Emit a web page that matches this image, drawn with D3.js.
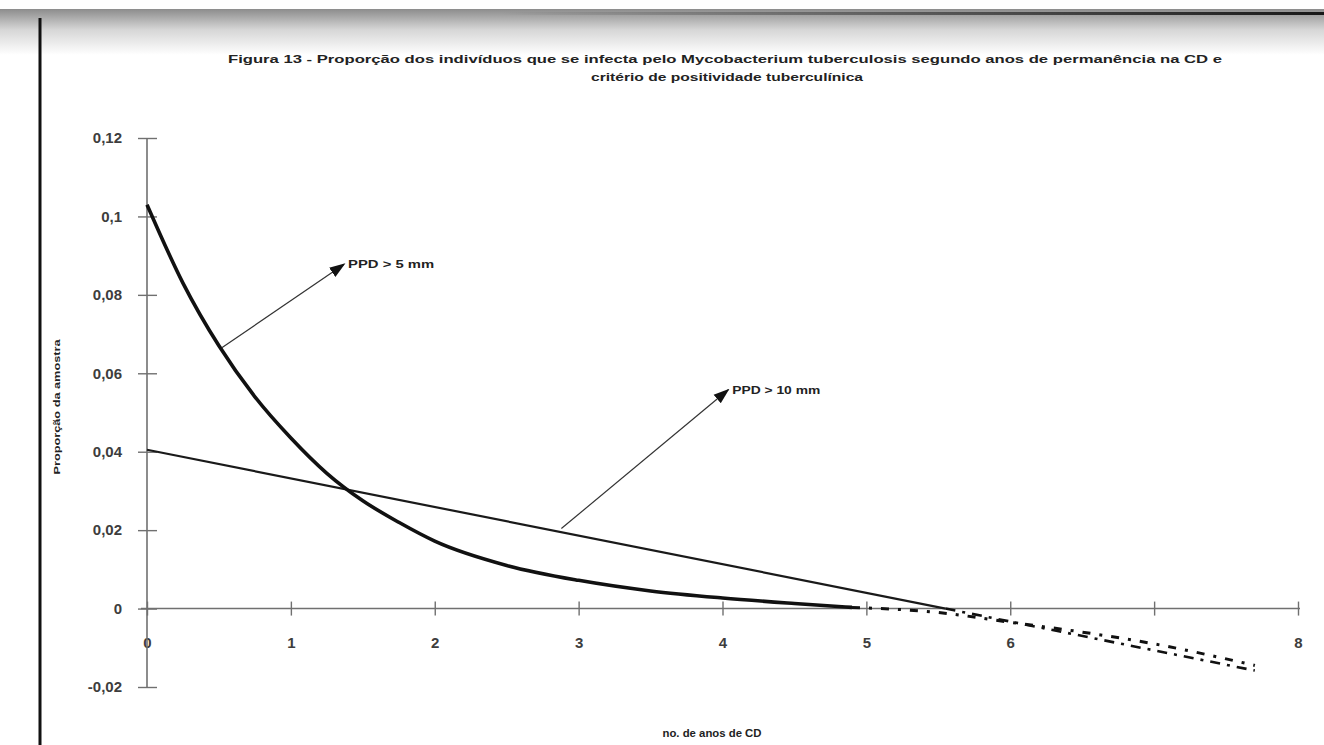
<!DOCTYPE html>
<html><head><meta charset="utf-8">
<script src="https://cdn.jsdelivr.net/npm/d3@7"></script>
<style>body{margin:0;background:#fff}svg{display:block}</style>
</head><body>
<script>
// ---- data ----
const titleLines = ["Figura 13 - Proporção dos indivíduos que se infecta pelo Mycobacterium tuberculosis segundo anos de permanência na CD e", "critério de positividade tuberculínica"];
const yLabel = "Proporção da amostra";
const xLabel = "no. de anos de CD";
const xTicks = [0,1,2,3,4,5,6,7,8];
const xTickLabels = ["0","1","2","3","4","5","6","","8"];
const yTicks = [0.12,0.1,0.08,0.06,0.04,0.02,0,-0.02];
const yTickLabels = ["0,12","0,1","0,08","0,06","0,04","0,02","0","-0,02"];
// PPD > 5 mm (thick curve)
const ppd5X = [0,0.25,0.5,0.75,1.0,1.25,1.5,1.75,2.0,2.5,3.0,3.5,4.0,4.5,4.9];
const ppd5Y = [0.103,0.083,0.067,0.054,0.0435,0.0345,0.0275,0.022,0.0172,0.011,0.0072,0.0045,0.0027,0.0013,0.0003];
const ppd5ExtX = [4.9,5.5,6.0,6.5,7.0,7.7];
const ppd5ExtY = [0.0003,-0.001,-0.0035,-0.006,-0.009,-0.0145];
// PPD > 10 mm (thin line)
const ppd10X = [0,5.55];
const ppd10Y = [0.0405,0];
const ppd10ExtX = [5.55,7.7];
const ppd10ExtY = [0,-0.0158];
// annotations: [x0,y0,x1,y1,label]
const annotations = [
  [0.52,0.0665,1.37,0.0878,"PPD > 5 mm"],
  [2.88,0.0204,4.04,0.0558,"PPD > 10 mm"]
];
const annotationWidths = [86,88];

// ---- layout ----
const W=1324,H=745;
const svg=d3.select("body").append("svg").attr("width",W).attr("height",H);
const defs=svg.append("defs");
const g1=defs.append("linearGradient").attr("id","topg").attr("x1",0).attr("y1",0).attr("x2",0).attr("y2",1);
g1.append("stop").attr("offset",0).attr("stop-color","#8c8c8c");
g1.append("stop").attr("offset",0.45).attr("stop-color","#d6d6d6");
g1.append("stop").attr("offset",1).attr("stop-color","#ffffff");
const g2=defs.append("linearGradient").attr("id","lineg").attr("x1",0).attr("y1",0).attr("x2",1).attr("y2",0);
g2.append("stop").attr("offset",0).attr("stop-color","#000").attr("stop-opacity",0);
g2.append("stop").attr("offset",1).attr("stop-color","#000").attr("stop-opacity",0.85);
defs.append("marker").attr("id","arr").attr("viewBox","0 0 10 10").attr("refX",9).attr("refY",5)
  .attr("markerWidth",16).attr("markerHeight",16).attr("orient","auto").attr("markerUnits","userSpaceOnUse")
  .append("path").attr("d","M0,1.5 L10,5 L0,8.5 Z").attr("fill","#111");

svg.append("rect").attr("x",0).attr("y",9).attr("width",W).attr("height",46).attr("fill","url(#topg)");
svg.append("rect").attr("x",0).attr("y",0).attr("width",W).attr("height",9).attr("fill","#fff");
svg.append("rect").attr("x",500).attr("y",12).attr("width",W-500).attr("height",3).attr("fill","url(#lineg)");
svg.append("line").attr("x1",40).attr("x2",40).attr("y1",18).attr("y2",H).attr("stroke","#111").attr("stroke-width",3);

const x=d3.scaleLinear().domain([0,8]).range([147,1298]);
const y=d3.scaleLinear().domain([-0.02,0.12]).range([687,138]);

// title
const tfont="'Liberation Sans Narrow','Liberation Sans',Arial,sans-serif";
svg.append("text").attr("x",725).attr("y",63).attr("text-anchor","middle")
  .attr("font-family",tfont).attr("font-weight","bold").attr("font-size",11.5).attr("fill","#222")
  .attr("textLength",994).attr("lengthAdjust","spacingAndGlyphs").text(titleLines[0]);
svg.append("text").attr("x",727).attr("y",81).attr("text-anchor","middle")
  .attr("font-family",tfont).attr("font-weight","bold").attr("font-size",11.5).attr("fill","#222")
  .attr("textLength",272).attr("lengthAdjust","spacingAndGlyphs").text(titleLines[1]);

// axes
const axCol="#707070";
const xAxis=d3.axisBottom(x).tickValues(xTicks).tickSize(0).tickFormat((d,i)=>xTickLabels[i]);
const gx=svg.append("g").attr("transform",`translate(0,${y(0)})`).call(xAxis);
gx.select(".domain").remove();
svg.append("line").attr("x1",x(0)-6).attr("x2",x(8)+2).attr("y1",y(0)).attr("y2",y(0)).attr("stroke",axCol).attr("stroke-width",1.6);
gx.selectAll(".tick").append("line").attr("y1",-7).attr("y2",7).attr("stroke",axCol).attr("stroke-width",1.4);
gx.selectAll(".tick text").attr("y",35).attr("dy","0.32em").attr("font-family","'Liberation Sans',Arial,sans-serif")
  .attr("font-weight","bold").attr("font-size",15).attr("fill","#3d3d3d");

const yAxis=d3.axisLeft(y).tickValues(yTicks).tickSize(0).tickFormat((d,i)=>yTickLabels[i]);
const gy=svg.append("g").attr("transform",`translate(${x(0)},0)`).call(yAxis);
gy.select(".domain").remove();
svg.append("line").attr("x1",x(0)).attr("x2",x(0)).attr("y1",y(0.12)).attr("y2",y(-0.02)).attr("stroke",axCol).attr("stroke-width",1.6);
gy.selectAll(".tick").append("line").attr("x1",-9).attr("x2",10).attr("stroke",axCol).attr("stroke-width",1.4);
gy.selectAll(".tick text").attr("x",-25).attr("font-family","'Liberation Sans',Arial,sans-serif")
  .attr("font-weight","bold").attr("font-size",15).attr("fill","#3d3d3d");

// axis labels
svg.append("text").attr("transform",`translate(60,407) rotate(-90)`).attr("text-anchor","middle")
  .attr("font-family",tfont).attr("font-weight","bold").attr("font-size",9.5).attr("fill","#222")
  .attr("textLength",135).attr("lengthAdjust","spacingAndGlyphs").text(yLabel);
svg.append("text").attr("x",712).attr("y",737).attr("text-anchor","middle")
  .attr("font-family","'Liberation Sans',Arial,sans-serif").attr("font-weight","bold").attr("font-size",10).attr("fill","#222")
  .attr("textLength",99).attr("lengthAdjust","spacingAndGlyphs").text(xLabel);

// lines
const line=d3.line().x(d=>x(d[0])).y(d=>y(d[1])).curve(d3.curveMonotoneX);
const straight=d3.line().x(d=>x(d[0])).y(d=>y(d[1]));
const zip=(a,b)=>a.map((v,i)=>[v,b[i]]);
svg.append("path").datum(zip(ppd10X,ppd10Y)).attr("d",straight)
  .attr("fill","none").attr("stroke","#1a1a1a").attr("stroke-width",2.2);
svg.append("path").datum(zip(ppd5X,ppd5Y)).attr("d",line)
  .attr("fill","none").attr("stroke","#111").attr("stroke-width",3.6);
svg.append("path").datum(zip(ppd5ExtX,ppd5ExtY)).attr("d",line)
  .attr("fill","none").attr("stroke","#111").attr("stroke-width",3).attr("stroke-dasharray","8,9,3,9");
svg.append("path").datum(zip(ppd10ExtX,ppd10ExtY)).attr("d",straight)
  .attr("fill","none").attr("stroke","#111").attr("stroke-width",2.6).attr("stroke-dasharray","10,7,3,7");

// annotations
annotations.forEach((a,i)=>{
  svg.append("line").attr("x1",x(a[0])).attr("y1",y(a[1])).attr("x2",x(a[2])).attr("y2",y(a[3]))
    .attr("stroke","#333").attr("stroke-width",1.2).attr("marker-end","url(#arr)");
  svg.append("text").attr("x",x(a[2])+4).attr("y",y(a[3])+4)
    .attr("font-family","'Liberation Sans',Arial,sans-serif").attr("font-weight","bold").attr("font-size",10.5).attr("fill","#222")
    .attr("textLength",annotationWidths[i]).attr("lengthAdjust","spacingAndGlyphs").text(a[4]);
});
</script>
</body></html>
